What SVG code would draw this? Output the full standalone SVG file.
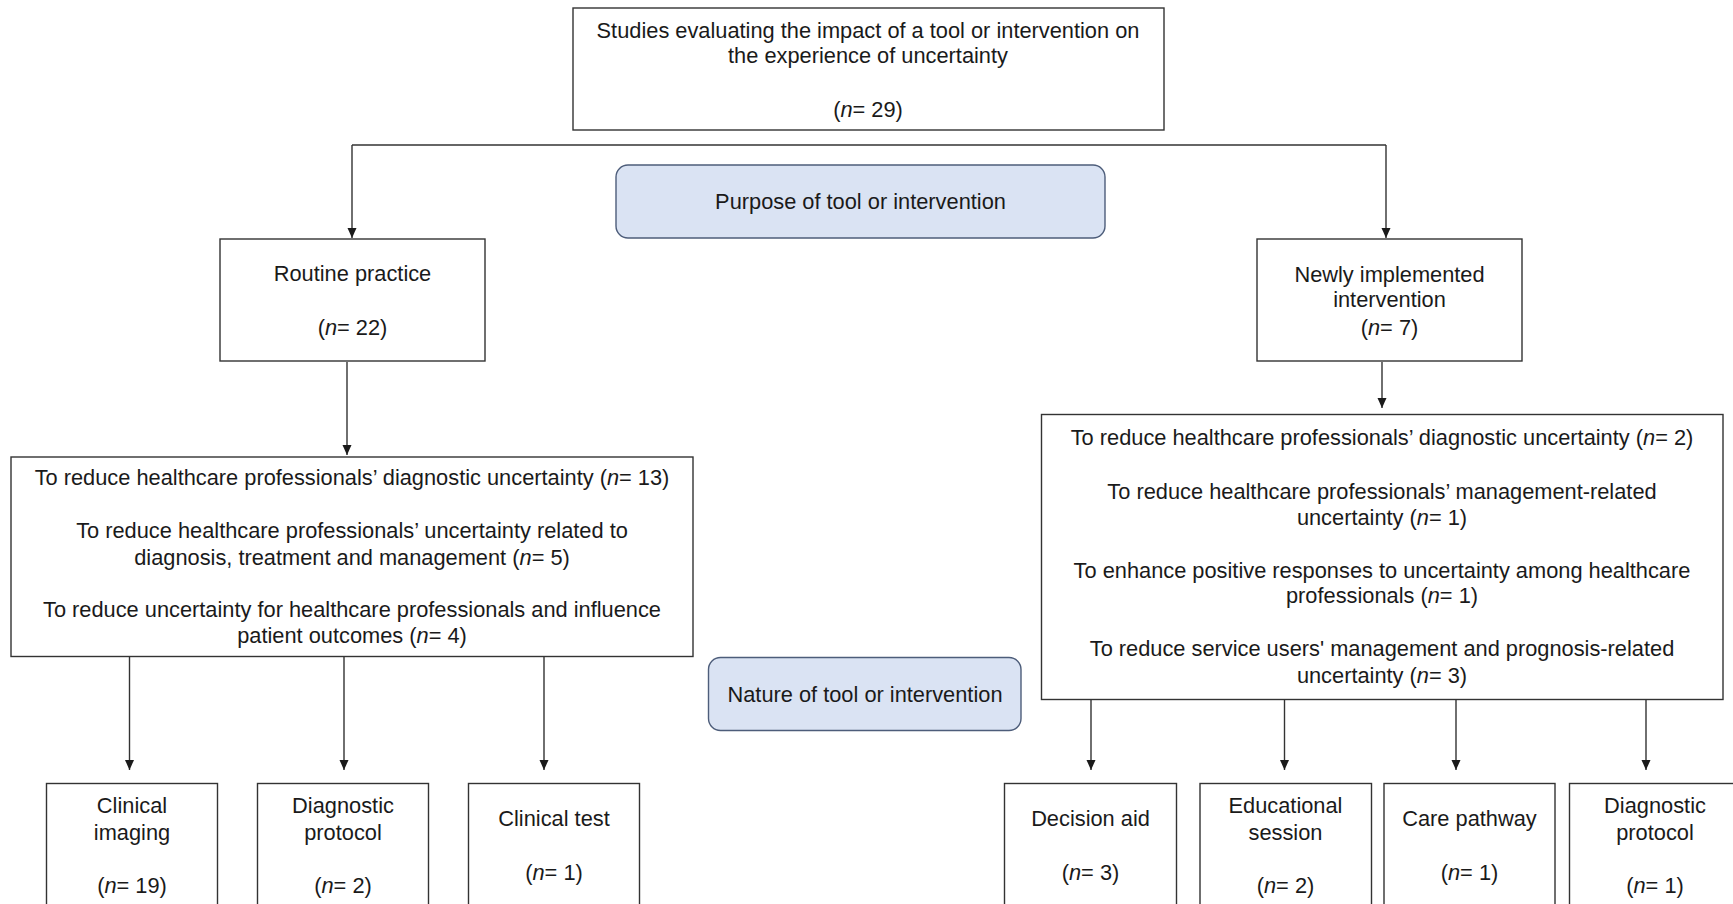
<svg xmlns="http://www.w3.org/2000/svg" width="1733" height="904" viewBox="0 0 1733 904">
  <defs>
    <style>
      .box { fill: #ffffff; stroke: #333333; stroke-width: 1.4; }
      .cat { fill: #dae3f3; stroke: #4d5d7a; stroke-width: 1.4; }
      .txt { font-family: "Liberation Sans", Arial, sans-serif; font-size: 21.8px; fill: #1a1a1a; text-anchor: middle; }
      .it { font-style: italic; }
      .link { fill: none; stroke: #333333; stroke-width: 1.4; }
    </style>
    <marker id="arrow" markerUnits="userSpaceOnUse" markerWidth="10" markerHeight="10" viewBox="0 0 10 10" refX="10" refY="5" orient="auto">
      <path d="M0,0.5 L10,5 L0,9.5 z" fill="#1a1a1a"/>
    </marker>
  </defs>

  <rect width="1733" height="904" fill="#ffffff"/>

  <!-- connectors -->
  <g id="connectors">
    <path class="link" d="M352,145 L1386,145"/>
    <path class="link" d="M352,145 L352,238" marker-end="url(#arrow)"/>
    <path class="link" d="M1386,145 L1386,238" marker-end="url(#arrow)"/>
    <path class="link" d="M347,362 L347,455" marker-end="url(#arrow)"/>
    <path class="link" d="M1382,362 L1382,408" marker-end="url(#arrow)"/>
    <path class="link" d="M129.5,656.5 L129.5,770" marker-end="url(#arrow)"/>
    <path class="link" d="M344,656.5 L344,770" marker-end="url(#arrow)"/>
    <path class="link" d="M544,656.5 L544,770" marker-end="url(#arrow)"/>
    <path class="link" d="M1091,699.5 L1091,770" marker-end="url(#arrow)"/>
    <path class="link" d="M1284.5,699.5 L1284.5,770" marker-end="url(#arrow)"/>
    <path class="link" d="M1456,699.5 L1456,770" marker-end="url(#arrow)"/>
    <path class="link" d="M1646,699.5 L1646,770" marker-end="url(#arrow)"/>
  </g>

  <!-- root -->
  <g id="studies">
    <rect class="box" x="573" y="8" width="591" height="122"/>
    <text class="txt" x="868" y="37.5">Studies evaluating the impact of a tool or intervention on</text>
    <text class="txt" x="868" y="62.5">the experience of uncertainty</text>
    <text class="txt" x="868" y="116.5">(<tspan class="it">n</tspan>= 29)</text>
  </g>

  <g id="purpose-label">
    <rect class="cat" x="616" y="165" width="489" height="73" rx="12" ry="12"/>
    <text class="txt" x="860.5" y="208.5">Purpose of tool or intervention</text>
  </g>

  <g id="routine">
    <rect class="box" x="220" y="239" width="265" height="122"/>
    <text class="txt" x="352.5" y="280.5">Routine practice</text>
    <text class="txt" x="352.5" y="334.5">(<tspan class="it">n</tspan>= 22)</text>
  </g>

  <g id="newly">
    <rect class="box" x="1257" y="239" width="265" height="122"/>
    <text class="txt" x="1389.5" y="281.5">Newly implemented</text>
    <text class="txt" x="1389.5" y="307">intervention</text>
    <text class="txt" x="1389.5" y="334.5">(<tspan class="it">n</tspan>= 7)</text>
  </g>

  <g id="routine-aims">
    <rect class="box" x="11" y="457" width="682" height="199.5"/>
    <text class="txt" x="352" y="485">To reduce healthcare professionals’ diagnostic uncertainty (<tspan class="it">n</tspan>= 13)</text>
    <text class="txt" x="352" y="538">To reduce healthcare professionals’ uncertainty related to</text>
    <text class="txt" x="352" y="564.5">diagnosis, treatment and management (<tspan class="it">n</tspan>= 5)</text>
    <text class="txt" x="352" y="616.5">To reduce uncertainty for healthcare professionals and influence</text>
    <text class="txt" x="352" y="643">patient outcomes (<tspan class="it">n</tspan>= 4)</text>
  </g>

  <g id="newly-aims">
    <rect class="box" x="1041.5" y="414.5" width="681.5" height="285"/>
    <text class="txt" x="1382" y="445">To reduce healthcare professionals’ diagnostic uncertainty (<tspan class="it">n</tspan>= 2)</text>
    <text class="txt" x="1382" y="499">To reduce healthcare professionals’ management-related</text>
    <text class="txt" x="1382" y="524.5">uncertainty (<tspan class="it">n</tspan>= 1)</text>
    <text class="txt" x="1382" y="577.5">To enhance positive responses to uncertainty among healthcare</text>
    <text class="txt" x="1382" y="603">professionals (<tspan class="it">n</tspan>= 1)</text>
    <text class="txt" x="1382" y="656">To reduce service users' management and prognosis-related</text>
    <text class="txt" x="1382" y="682.5">uncertainty (<tspan class="it">n</tspan>= 3)</text>
  </g>

  <g id="nature-label">
    <rect class="cat" x="708.5" y="657.5" width="312.5" height="73" rx="12" ry="12"/>
    <text class="txt" x="865" y="701.5">Nature of tool or intervention</text>
  </g>

  <!-- routine practice: nature of tool -->
  <g id="clinical-imaging">
    <rect class="box" x="46.5" y="783.5" width="171" height="130"/>
    <text class="txt" x="132" y="813">Clinical</text>
    <text class="txt" x="132" y="839.5">imaging</text>
    <text class="txt" x="132" y="892.5">(<tspan class="it">n</tspan>= 19)</text>
  </g>

  <g id="diagnostic-protocol-routine">
    <rect class="box" x="257.5" y="783.5" width="171" height="130"/>
    <text class="txt" x="343" y="813">Diagnostic</text>
    <text class="txt" x="343" y="839.5">protocol</text>
    <text class="txt" x="343" y="892.5">(<tspan class="it">n</tspan>= 2)</text>
  </g>

  <g id="clinical-test">
    <rect class="box" x="468.5" y="783.5" width="171" height="130"/>
    <text class="txt" x="554" y="825.5">Clinical test</text>
    <text class="txt" x="554" y="879.5">(<tspan class="it">n</tspan>= 1)</text>
  </g>

  <!-- newly implemented: nature of tool -->
  <g id="decision-aid">
    <rect class="box" x="1004.5" y="783.5" width="172" height="130"/>
    <text class="txt" x="1090.5" y="825.5">Decision aid</text>
    <text class="txt" x="1090.5" y="879.5">(<tspan class="it">n</tspan>= 3)</text>
  </g>

  <g id="educational-session">
    <rect class="box" x="1200" y="783.5" width="171.5" height="130"/>
    <text class="txt" x="1285.5" y="813">Educational</text>
    <text class="txt" x="1285.5" y="839.5">session</text>
    <text class="txt" x="1285.5" y="892.5">(<tspan class="it">n</tspan>= 2)</text>
  </g>

  <g id="care-pathway">
    <rect class="box" x="1384" y="783.5" width="171" height="130"/>
    <text class="txt" x="1469.5" y="825.5">Care pathway</text>
    <text class="txt" x="1469.5" y="879.5">(<tspan class="it">n</tspan>= 1)</text>
  </g>

  <g id="diagnostic-protocol-new">
    <rect class="box" x="1569.5" y="783.5" width="171" height="130"/>
    <text class="txt" x="1655" y="813">Diagnostic</text>
    <text class="txt" x="1655" y="839.5">protocol</text>
    <text class="txt" x="1655" y="892.5">(<tspan class="it">n</tspan>= 1)</text>
  </g>
</svg>
